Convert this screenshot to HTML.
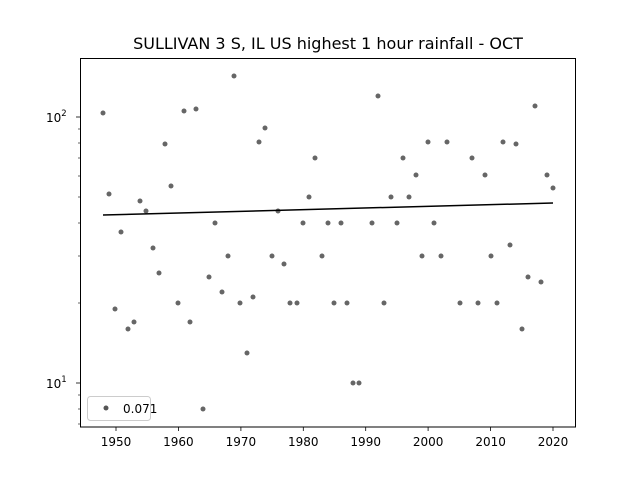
<!DOCTYPE html>
<html><head><meta charset="utf-8"><style>body{margin:0;background:#fff}svg{display:block}text{font-family:"DejaVu Sans","Liberation Sans",sans-serif;fill:#000}</style></head>
<body>
<svg width="640" height="480" viewBox="0 0 640 480" xmlns="http://www.w3.org/2000/svg">
<rect width="640" height="480" fill="#fff"/>
<text x="328" y="49" font-size="16" text-anchor="middle">SULLIVAN 3 S, IL US highest 1 hour rainfall - OCT</text>
<g fill="#555" fill-opacity="0.9">
<circle cx="103" cy="113" r="2.5"/><circle cx="109" cy="194" r="2.5"/><circle cx="115" cy="309" r="2.5"/><circle cx="121" cy="232" r="2.5"/><circle cx="128" cy="329" r="2.5"/><circle cx="134" cy="322" r="2.5"/><circle cx="140" cy="201" r="2.5"/><circle cx="146" cy="211" r="2.5"/><circle cx="153" cy="248" r="2.5"/><circle cx="159" cy="273" r="2.5"/><circle cx="165" cy="144" r="2.5"/><circle cx="171" cy="186" r="2.5"/><circle cx="178" cy="303" r="2.5"/><circle cx="184" cy="111" r="2.5"/><circle cx="190" cy="322" r="2.5"/><circle cx="196" cy="109" r="2.5"/><circle cx="203" cy="409" r="2.5"/><circle cx="209" cy="277" r="2.5"/><circle cx="215" cy="223" r="2.5"/><circle cx="222" cy="292" r="2.5"/><circle cx="228" cy="256" r="2.5"/><circle cx="234" cy="76" r="2.5"/><circle cx="240" cy="303" r="2.5"/><circle cx="247" cy="353" r="2.5"/><circle cx="253" cy="297" r="2.5"/><circle cx="259" cy="142" r="2.5"/><circle cx="265" cy="128" r="2.5"/><circle cx="272" cy="256" r="2.5"/><circle cx="278" cy="211" r="2.5"/><circle cx="284" cy="264" r="2.5"/><circle cx="290" cy="303" r="2.5"/><circle cx="297" cy="303" r="2.5"/><circle cx="303" cy="223" r="2.5"/><circle cx="309" cy="197" r="2.5"/><circle cx="315" cy="158" r="2.5"/><circle cx="322" cy="256" r="2.5"/><circle cx="328" cy="223" r="2.5"/><circle cx="334" cy="303" r="2.5"/><circle cx="341" cy="223" r="2.5"/><circle cx="347" cy="303" r="2.5"/><circle cx="353" cy="383" r="2.5"/><circle cx="359" cy="383" r="2.5"/><circle cx="372" cy="223" r="2.5"/><circle cx="378" cy="96" r="2.5"/><circle cx="384" cy="303" r="2.5"/><circle cx="391" cy="197" r="2.5"/><circle cx="397" cy="223" r="2.5"/><circle cx="403" cy="158" r="2.5"/><circle cx="409" cy="197" r="2.5"/><circle cx="416" cy="175" r="2.5"/><circle cx="422" cy="256" r="2.5"/><circle cx="428" cy="142" r="2.5"/><circle cx="434" cy="223" r="2.5"/><circle cx="441" cy="256" r="2.5"/><circle cx="447" cy="142" r="2.5"/><circle cx="460" cy="303" r="2.5"/><circle cx="472" cy="158" r="2.5"/><circle cx="478" cy="303" r="2.5"/><circle cx="485" cy="175" r="2.5"/><circle cx="491" cy="256" r="2.5"/><circle cx="497" cy="303" r="2.5"/><circle cx="503" cy="142" r="2.5"/><circle cx="510" cy="245" r="2.5"/><circle cx="516" cy="144" r="2.5"/><circle cx="522" cy="329" r="2.5"/><circle cx="528" cy="277" r="2.5"/><circle cx="535" cy="106" r="2.5"/><circle cx="541" cy="282" r="2.5"/><circle cx="547" cy="175" r="2.5"/><circle cx="553" cy="188" r="2.5"/>
</g>
<line x1="103" y1="215" x2="553" y2="203" stroke="#000" stroke-width="1.5"/>
<rect x="80.5" y="58.5" width="495" height="368.5" fill="none" stroke="#000" stroke-width="1"/>
<g stroke="#000" stroke-width="0.8">
<line x1="116" y1="427" x2="116" y2="431"/><line x1="178.4" y1="427" x2="178.4" y2="431"/><line x1="240.9" y1="427" x2="240.9" y2="431"/><line x1="303.3" y1="427" x2="303.3" y2="431"/><line x1="365.7" y1="427" x2="365.7" y2="431"/><line x1="428.1" y1="427" x2="428.1" y2="431"/><line x1="490.6" y1="427" x2="490.6" y2="431"/><line x1="553" y1="427" x2="553" y2="431"/>
<line x1="76" y1="117" x2="80" y2="117"/><line x1="76" y1="383" x2="80" y2="383"/>
<g stroke-width="0.6">
<line x1="78" y1="424" x2="80" y2="424"/><line x1="78" y1="409" x2="80" y2="409"/><line x1="78" y1="395" x2="80" y2="395"/><line x1="78" y1="303" x2="80" y2="303"/><line x1="78" y1="256" x2="80" y2="256"/><line x1="78" y1="223" x2="80" y2="223"/><line x1="78" y1="197" x2="80" y2="197"/><line x1="78" y1="176" x2="80" y2="176"/><line x1="78" y1="158" x2="80" y2="158"/><line x1="78" y1="143" x2="80" y2="143"/><line x1="78" y1="129" x2="80" y2="129"/>
</g></g>
<g font-size="12" text-anchor="middle">
<text x="116" y="446">1950</text><text x="178.4" y="446">1960</text><text x="240.9" y="446">1970</text><text x="303.3" y="446">1980</text><text x="365.7" y="446">1990</text><text x="428.1" y="446">2000</text><text x="490.6" y="446">2010</text><text x="553" y="446">2020</text>
</g>
<text x="46" y="122" font-size="12">10<tspan font-size="8.5" dy="-6">2</tspan></text>
<text x="46" y="388" font-size="12">10<tspan font-size="8.5" dy="-6">1</tspan></text>
<rect x="87.5" y="396.5" width="63" height="24" rx="3" fill="#fff" fill-opacity="0.8" stroke="#ccc"/>
<circle cx="106" cy="408" r="2.5" fill="#555"/>
<text x="123" y="413" font-size="12">0.071</text>
</svg>
</body></html>
